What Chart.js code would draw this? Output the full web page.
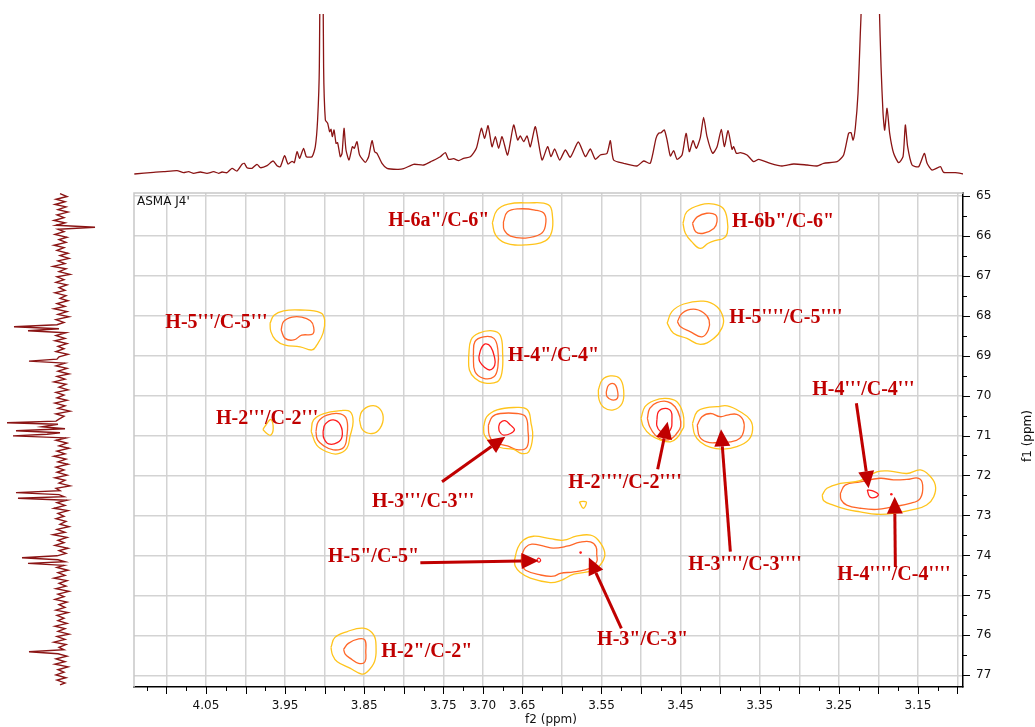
<!DOCTYPE html>
<html>
<head>
<meta charset="utf-8">
<title>ASMA J4' HSQC</title>
<script src="https://cdn.jsdelivr.net/npm/chart.js@4.4.1/dist/chart.umd.min.js"></script>
<style>
  html, body { margin: 0; padding: 0; background: #fff; }
  #wrap { position: relative; width: 1035px; height: 727px; overflow: hidden; }
  #wrap canvas { position: absolute; left: 0; top: 0; }
</style>
</head>
<body>
<div id="wrap">
  <canvas id="proton" width="1035" height="190"></canvas>
  <canvas id="carbon" width="130" height="727"></canvas>
  <canvas id="hsqc" width="1035" height="727"></canvas>
</div>
<script>
// ---- axis limits (ppm) ----
const f2Min = 3.093, f2Max = 4.141;      // 1H (horizontal)
const f1Min = 64.933, f1Max = 77.292;    // 13C (vertical)

// ---- tick labels ----
const f2TickLabels = ['4.05', '3.95', '3.85', '3.75', '3.70', '3.65', '3.55', '3.45', '3.35', '3.25', '3.15'];
const f1TickLabels = ['65', '66', '67', '68', '69', '70', '71', '72', '73', '74', '75', '76', '77'];

// ---- 1H projection: [ppm, intensity] ----
const protonTrace = [
  [4.1406,2],[4.1162,3.7],[4.1036,4.3],[4.0866,5.3],[4.0783,3.3],[4.0720,4.3],[4.0656,2.7],[4.0572,4],
  [4.0487,2.7],[4.0403,4.3],[4.0340,2.7],[4.0297,4],[4.0234,3.3],[4.0171,7.7],[4.0108,5],[4.0044,11.7],
  [4.0015,12.7],[3.9981,8.3],[3.9918,7.7],[3.9855,11.7],[3.9813,8.3],[3.9728,10.3],[3.9652,15],[3.9602,10.3],
  [3.9560,9.3],[3.9506,20.3],[3.9463,12],[3.9412,14.7],[3.9383,13.3],[3.9349,24.3],[3.9316,17.7],[3.9266,27.7],
  [3.9231,19.3],[3.9159,19.3],[3.9118,29.3],[3.9089,56],[3.9067,109],[3.9040,400],[3.9013,109],[3.8991,56],
  [3.8962,52.7],[3.8937,44.3],[3.8919,46.7],[3.8903,39.3],[3.8881,46],[3.8856,32.7],[3.8836,33.3],[3.8802,19.3],
  [3.8780,22.7],[3.8755,47.7],[3.8730,26],[3.8692,16],[3.8650,29.3],[3.8625,27.7],[3.8591,34.3],[3.8558,21],
  [3.8486,13.7],[3.8444,19.3],[3.8401,35.3],[3.8368,24.3],[3.8338,22.7],[3.8275,12.7],[3.8211,7.7],[3.8085,6.7],
  [3.8001,7.3],[3.7875,11.7],[3.7749,11],[3.7642,15],[3.7537,19.3],[3.7474,23.3],[3.7433,16.7],[3.7369,17.3],
  [3.7306,15.3],[3.7243,17.7],[3.7158,19.3],[3.7082,27.7],[3.7019,47.7],[3.6977,37.7],[3.6934,50.3],[3.6884,29.3],
  [3.6842,39.3],[3.6800,27.7],[3.6757,39.3],[3.6687,21],[3.6611,51],[3.6560,36],[3.6526,40],[3.6484,34.3],
  [3.6441,40],[3.6400,29.3],[3.6336,49.3],[3.6252,16],[3.6181,29.3],[3.6138,19.3],[3.6092,27],[3.6029,16],
  [3.5957,26],[3.5894,18.7],[3.5793,34],[3.5704,19.3],[3.5641,27],[3.5578,16.7],[3.5515,21],[3.5430,22.7],
  [3.5388,35.3],[3.5347,16],[3.5220,12.7],[3.5051,10],[3.4967,15],[3.4883,12.7],[3.4811,37.7],[3.4778,42.7],
  [3.4747,43.3],[3.4706,46],[3.4671,36],[3.4630,20],[3.4588,25.3],[3.4545,16.7],[3.4482,21],[3.4431,42.7],
  [3.4390,24.3],[3.4343,35.3],[3.4301,27.7],[3.4250,38.7],[3.4209,58.7],[3.4166,39.3],[3.4095,22.7],[3.4039,29.3],
  [3.3985,46.7],[3.3947,29.3],[3.3900,45.3],[3.3850,26.7],[3.3829,29.3],[3.3795,22.7],[3.3745,23.3],[3.3660,21],
  [3.3577,14.3],[3.3513,16.7],[3.3366,12.7],[3.3218,10],[3.3071,12],[3.2902,11],[3.2775,10],[3.2692,12.7],
  [3.2522,14.3],[3.2439,21],[3.2376,42.7],[3.2345,43.3],[3.2320,36],[3.2291,48.3],[3.2257,82.7],[3.2228,142.7],
  [3.2215,170],[3.2196,250],[3.2101,600],[3.2007,250],[3.1988,170],[3.1966,109.3],[3.1941,62.7],[3.1920,46],
  [3.1890,67.7],[3.1857,42.7],[3.1807,22.7],[3.1743,13.3],[3.1688,19.3],[3.1659,51],[3.1630,29.3],[3.1574,11],
  [3.1491,9.3],[3.1419,22.7],[3.1384,12.7],[3.1321,6],[3.1216,9.3],[3.1175,3.7],[3.1027,3.3],[3.0922,2]
];

// ---- 13C projection: [ppm, intensity] ----
const carbonTrace = [
  [64.95,2],[65.02,-5],[65.09,6],[65.15,-3],[65.22,7],[65.28,-4],[65.35,4],[65.41,-6],[65.48,5],[65.55,-2],
  [65.62,8],[65.68,-3],[65.74,6],[65.79,-33],[65.84,4],[65.90,-2],[65.97,7],[66.04,-5],[66.10,3],[66.17,-4],
  [66.24,8],[66.30,-2],[66.37,5],[66.44,-6],[66.50,2],[66.57,-7],[66.63,4],[66.70,-3],[66.77,9],[66.83,-4],
  [66.90,3],[66.97,-8],[67.03,5],[67.10,-2],[67.17,6],[67.23,-5],[67.30,3],[67.37,-3],[67.43,7],[67.50,-4],
  [67.57,2],[67.63,-6],[67.70,5],[67.77,-3],[67.83,8],[67.90,-5],[67.97,4],[68.03,-7],[68.10,6],[68.17,-2],
  [68.23,5],[68.28,48],[68.33,3],[68.38,34],[68.43,-4],[68.50,6],[68.57,-3],[68.63,7],[68.70,-5],[68.77,4],
  [68.83,-2],[68.90,6],[68.97,-6],[69.03,3],[69.09,5],[69.14,33],[69.19,-3],[69.26,6],[69.32,-5],[69.39,4],
  [69.46,-7],[69.52,5],[69.59,-3],[69.66,8],[69.72,-4],[69.79,3],[69.86,-6],[69.92,6],[69.99,-2],[70.06,5],
  [70.12,-5],[70.19,7],[70.26,-3],[70.32,4],[70.39,-8],[70.46,6],[70.52,-2],[70.59,3],[70.64,6],[70.68,55],
  [70.72,4],[70.78,20],[70.83,-3],[70.88,46],[70.93,2],[70.97,15],[71.01,49],[71.06,-4],[71.12,6],[71.19,-5],
  [71.26,3],[71.32,-7],[71.39,5],[71.46,-3],[71.52,8],[71.59,-4],[71.66,4],[71.72,-6],[71.79,6],[71.86,-2],
  [71.92,5],[71.99,-5],[72.06,7],[72.12,-3],[72.19,3],[72.26,-8],[72.32,6],[72.38,2],[72.43,46],[72.48,3],
  [72.53,-2],[72.57,44],[72.62,-5],[72.68,5],[72.75,-3],[72.82,8],[72.88,-6],[72.95,4],[73.02,-2],[73.08,6],
  [73.15,-4],[73.22,2],[73.28,-7],[73.35,5],[73.42,-3],[73.48,9],[73.55,-5],[73.62,4],[73.68,-2],[73.75,7],
  [73.82,-6],[73.88,3],[73.95,-4],[74.01,5],[74.06,40],[74.11,4],[74.16,-3],[74.20,34],[74.25,-2],[74.30,5],
  [74.37,-6],[74.43,4],[74.50,-3],[74.57,8],[74.63,-5],[74.70,3],[74.77,-4],[74.83,6],[74.90,-7],[74.97,4],
  [75.03,-2],[75.10,7],[75.17,-5],[75.23,3],[75.30,-3],[75.37,6],[75.43,-6],[75.50,5],[75.57,-2],[75.63,4],
  [75.70,-5],[75.77,7],[75.83,-3],[75.90,4],[75.97,-7],[76.03,5],[76.10,-3],[76.17,8],[76.23,-4],[76.30,3],
  [76.36,-2],[76.41,33],[76.46,4],[76.52,-5],[76.59,6],[76.66,-3],[76.72,7],[76.79,-6],[76.86,4],[76.92,-2],
  [76.99,6],[77.06,-4],[77.12,5],[77.19,-3],[77.24,2]
];

// ---- HSQC contours, [f2 ppm, f1 ppm] ----
const lowContours = [
  [[3.688,65.68],[3.682,65.36],[3.668,65.21],[3.643,65.18],[3.617,65.23],[3.612,65.51],[3.613,65.91],[3.621,66.13],[3.646,66.23],[3.672,66.18],[3.684,65.98]],
  [[3.447,65.69],[3.442,65.40],[3.425,65.23],[3.408,65.21],[3.396,65.32],[3.391,65.61],[3.391,65.94],[3.396,66.07],[3.404,66.11],[3.415,66.19],[3.425,66.32],[3.436,66.15],[3.444,65.94]],
  [[3.969,68.19],[3.964,67.99],[3.952,67.88],[3.931,67.86],[3.905,67.93],[3.900,68.11],[3.902,68.44],[3.910,68.74],[3.916,68.86],[3.931,68.78],[3.950,68.74],[3.962,68.61],[3.968,68.40]],
  [[3.467,68.19],[3.461,67.90],[3.446,67.71],[3.421,67.64],[3.404,67.78],[3.396,68.07],[3.398,68.32],[3.408,68.57],[3.425,68.72],[3.442,68.57],[3.459,68.44]],
  [[3.718,69.03],[3.715,68.61],[3.705,68.44],[3.688,68.38],[3.678,68.49],[3.675,68.94],[3.676,69.44],[3.682,69.66],[3.699,69.68],[3.710,69.57],[3.717,69.36]],
  [[3.554,69.86],[3.549,69.61],[3.539,69.51],[3.527,69.57],[3.522,69.86],[3.524,70.20],[3.535,70.36],[3.547,70.30],[3.553,70.11]],
  [[3.699,70.78],[3.695,70.53],[3.682,70.36],[3.661,70.30],[3.644,70.35],[3.639,70.70],[3.637,71.03],[3.642,71.41],[3.651,71.45],[3.661,71.35],[3.678,71.30],[3.691,71.16],[3.698,70.99]],
  [[3.917,70.90],[3.914,70.61],[3.901,70.45],[3.880,70.38],[3.868,70.40],[3.864,70.65],[3.868,71.03],[3.872,71.32],[3.884,71.46],[3.897,71.41],[3.910,71.24]],
  [[3.978,70.85],[3.973,70.70],[3.968,70.60],[3.965,70.82],[3.968,70.99],[3.973,70.95]],
  [[3.856,70.61],[3.853,70.40],[3.842,70.26],[3.832,70.30],[3.826,70.53],[3.830,70.82],[3.840,70.95],[3.852,70.86]],
  [[3.500,70.57],[3.495,70.28],[3.484,70.13],[3.469,70.07],[3.455,70.15],[3.447,70.45],[3.446,70.78],[3.448,70.86],[3.455,71.07],[3.463,71.16],[3.476,71.11],[3.488,70.99],[3.497,70.78]],
  [[3.435,70.70],[3.429,70.40],[3.417,70.30],[3.404,70.28],[3.391,70.26],[3.375,70.40],[3.362,70.61],[3.359,70.86],[3.364,71.11],[3.379,71.28],[3.396,71.34],[3.412,71.30],[3.425,71.16],[3.432,70.99]],
  [[3.271,72.49],[3.265,72.32],[3.248,72.20],[3.223,72.13],[3.202,71.91],[3.185,71.89],[3.164,71.95],[3.147,71.86],[3.136,71.99],[3.128,72.24],[3.130,72.53],[3.139,72.74],[3.155,72.85],[3.181,72.95],[3.202,72.97],[3.223,72.91],[3.240,72.85],[3.257,72.74],[3.269,72.63]],
  [[3.578,72.66],[3.573,72.65],[3.569,72.67],[3.573,72.82]],
  [[3.660,74.12],[3.656,73.82],[3.649,73.62],[3.636,73.52],[3.615,73.58],[3.598,73.62],[3.582,73.52],[3.564,73.49],[3.554,73.62],[3.546,73.92],[3.549,74.17],[3.560,74.37],[3.585,74.47],[3.602,74.63],[3.615,74.68],[3.640,74.57],[3.653,74.42],[3.659,74.27]],
  [[3.892,76.30],[3.887,76.05],[3.872,75.91],[3.851,75.82],[3.838,75.99],[3.835,76.32],[3.837,76.66],[3.846,76.91],[3.853,76.97],[3.868,76.82],[3.884,76.66],[3.890,76.49]]
];
const midContours = [
  [[3.674,65.66],[3.669,65.41],[3.655,65.33],[3.634,65.36],[3.622,65.46],[3.621,65.76],[3.627,65.96],[3.646,66.06],[3.665,66.01],[3.673,65.86]],
  [[3.435,65.69],[3.429,65.53],[3.417,65.44],[3.406,65.48],[3.404,65.65],[3.408,65.82],[3.421,65.94],[3.431,65.90]],
  [[3.955,68.36],[3.952,68.15],[3.941,68.04],[3.929,68.04],[3.918,68.13],[3.914,68.28],[3.915,68.46],[3.929,68.49],[3.939,68.61],[3.950,68.57]],
  [[3.454,68.15],[3.448,67.94],[3.434,67.84],[3.421,67.93],[3.414,68.11],[3.415,68.36],[3.423,68.53],[3.438,68.40],[3.450,68.28]],
  [[3.712,68.99],[3.710,68.65],[3.699,68.53],[3.686,68.57],[3.681,68.86],[3.681,69.28],[3.686,69.53],[3.699,69.57],[3.710,69.40]],
  [[3.544,69.91],[3.541,69.74],[3.534,69.71],[3.530,69.86],[3.530,70.07],[3.537,70.11],[3.543,70.03]],
  [[3.693,70.74],[3.688,70.53],[3.678,70.45],[3.657,70.45],[3.646,70.53],[3.643,70.86],[3.644,71.28],[3.655,71.36],[3.669,71.26],[3.686,71.16],[3.692,70.99]],
  [[3.911,70.90],[3.908,70.65],[3.897,70.49],[3.880,70.46],[3.872,70.61],[3.872,71.03],[3.876,71.30],[3.889,71.36],[3.901,71.26],[3.909,71.11]],
  [[3.492,70.57],[3.489,70.32],[3.480,70.18],[3.467,70.15],[3.457,70.28],[3.451,70.53],[3.450,70.78],[3.455,70.95],[3.461,71.07],[3.472,71.11],[3.482,70.99],[3.489,70.78]],
  [[3.429,70.74],[3.423,70.53],[3.412,70.45],[3.400,70.53],[3.391,70.49],[3.379,70.47],[3.371,70.61],[3.370,70.86],[3.375,71.07],[3.387,71.16],[3.404,71.18],[3.417,71.16],[3.426,71.03]],
  [[3.248,72.45],[3.242,72.24],[3.223,72.16],[3.198,72.07],[3.181,72.11],[3.164,72.10],[3.149,72.07],[3.144,72.24],[3.147,72.57],[3.160,72.70],[3.181,72.78],[3.202,72.85],[3.223,72.82],[3.240,72.74],[3.247,72.61]],
  [[3.651,73.99],[3.646,73.80],[3.638,73.72],[3.623,73.77],[3.611,73.82],[3.594,73.77],[3.577,73.67],[3.564,73.66],[3.557,73.78],[3.556,73.99],[3.556,74.16],[3.564,74.32],[3.585,74.41],[3.602,74.45],[3.611,74.52],[3.627,74.49],[3.646,74.37],[3.651,74.22]],
  [[3.876,76.35],[3.870,76.20],[3.857,76.09],[3.849,76.12],[3.848,76.41],[3.849,76.66],[3.857,76.70],[3.868,76.57],[3.874,76.47]]
];
const highContours = [
  [[3.705,69.03],[3.702,68.82],[3.697,68.71],[3.690,68.78],[3.685,69.07],[3.685,69.24],[3.691,69.36],[3.698,69.29],[3.704,69.15]],
  [[3.680,70.78],[3.678,70.68],[3.672,70.63],[3.665,70.74],[3.660,70.85],[3.665,70.95],[3.674,70.99],[3.679,70.90]],
  [[3.902,70.90],[3.899,70.71],[3.889,70.61],[3.880,70.74],[3.878,71.03],[3.884,71.18],[3.895,71.21],[3.901,71.07]],
  [[3.480,70.61],[3.478,70.40],[3.469,70.32],[3.462,70.40],[3.461,70.61],[3.462,70.82],[3.468,70.95],[3.476,70.89],[3.480,70.76]],
  [[3.214,72.36],[3.208,72.38],[3.200,72.47],[3.204,72.55],[3.211,72.53]],
  [[3.632,74.12],[3.6295,74.07],[3.627,74.12],[3.6295,74.17]]
];
const highSpots = [[3.1836,72.47],[3.5764,73.93]];

// ---- assignments ----
const peakLabels = [
  'H-6a"/C-6"', 'H-6b"/C-6"', "H-5'''/C-5'''", "H-5''''/C-5''''", 'H-4"/C-4"',
  "H-2'''/C-2'''", "H-3'''/C-3'''", "H-2''''/C-2''''", "H-4'''/C-4'''", "H-3''''/C-3''''",
  "H-4''''/C-4''''", 'H-5"/C-5"', 'H-3"/C-3"', 'H-2"/C-2"'
];
const labelAnchors = [
  [3.8195,65.633],[3.3850,65.651],[4.1014,68.185],[3.3884,68.060],[3.6682,69.011],
  [4.0373,70.587],[3.8401,72.656],[3.5919,72.181],[3.2835,69.862],[3.4402,74.240],
  [3.2519,74.491],[3.8957,74.032],[3.5556,76.117],[3.8283,76.410]
];
// [tail f2, tail f1, tip f2, tip f1]
const arrowLinks = [
  [3.7516,72.155,3.6716,71.030],
  [3.7790,74.183,3.6295,74.133],
  [3.5249,75.823,3.5660,74.052],
  [3.4790,71.845,3.4664,70.654],
  [3.3871,73.907,3.3989,70.845],
  [3.2278,70.195,3.2123,72.321],
  [3.1785,74.290,3.1794,72.531]
];

// ---------------------------------------------------------------
const TRACE = '#8a1414';
const LABEL_RED = '#c00000';
const AXIS_FONT = '"DejaVu Sans", sans-serif';
const LEVEL_COLORS = ['#ffc41c', '#ff6628', '#ff1c1c'];

const f2TickValues = [];
for (let k = 124; k <= 165; k++) f2TickValues.push(Math.round(k * 25) / 1000);
const f1TickValues = [];
for (let k = 130; k <= 154; k++) f1TickValues.push(k / 2);
const isMajorF2 = v => Math.abs(v / 0.05 - Math.round(v / 0.05)) < 1e-6;
const isMajorF1 = v => Math.abs(v - Math.round(v)) < 1e-6;

const baseOpts = {
  responsive: false,
  animation: false,
  devicePixelRatio: 1,
  events: [],
  plugins: { legend: { display: false }, tooltip: { enabled: false } }
};

// 1H projection along the top
new Chart(document.getElementById('proton'), {
  type: 'scatter',
  data: { datasets: [{
    data: protonTrace.map(([x, y]) => ({ x, y })),
    showLine: true, borderColor: TRACE, borderWidth: 1.3, pointRadius: 0, tension: 0.2
  }] },
  options: Object.assign({}, baseOpts, {
    layout: { padding: { left: 134, right: 72, top: 14, bottom: 14 } },
    scales: {
      x: { type: 'linear', min: f2Min, max: f2Max, reverse: true, display: false },
      y: { type: 'linear', min: 0, max: 162, display: false }
    }
  })
});

// 13C projection along the left
new Chart(document.getElementById('carbon'), {
  type: 'scatter',
  data: { datasets: [{
    data: carbonTrace.map(([y, x]) => ({ x, y })),
    showLine: true, borderColor: TRACE, borderWidth: 1.4, pointRadius: 0, tension: 0
  }] },
  options: Object.assign({}, baseOpts, {
    layout: { padding: { left: 0, right: 30, top: 193, bottom: 40 } },
    scales: {
      x: { type: 'linear', min: -38, max: 62, reverse: true, display: false },
      y: { type: 'linear', min: f1Min, max: f1Max, reverse: true, display: false }
    }
  })
});

// contour datasets
function contourSet(poly, color) {
  const pts = poly.map(([x, y]) => ({ x, y }));
  pts.push({ x: poly[0][0], y: poly[0][1] });
  return { data: pts, showLine: true, borderColor: color, borderWidth: 1.3,
           pointRadius: 0, tension: 0.42, fill: false };
}
const hsqcSets = [];
lowContours.forEach(p => hsqcSets.push(contourSet(p, LEVEL_COLORS[0])));
midContours.forEach(p => hsqcSets.push(contourSet(p, LEVEL_COLORS[1])));
highContours.forEach(p => hsqcSets.push(contourSet(p, LEVEL_COLORS[2])));
hsqcSets.push({ data: highSpots.map(([x, y]) => ({ x, y })), showLine: false,
                pointRadius: 1.3, backgroundColor: LEVEL_COLORS[2], borderWidth: 0 });

function drawArrow(ctx, x0, y0, x1, y1) {
  const a = Math.atan2(y1 - y0, x1 - x0), L = 17, W = 8;
  const bx = x1 - L * Math.cos(a), by = y1 - L * Math.sin(a);
  ctx.beginPath(); ctx.moveTo(x0, y0); ctx.lineTo(bx, by); ctx.stroke();
  ctx.beginPath();
  ctx.moveTo(x1, y1);
  ctx.lineTo(bx + W * Math.sin(a), by - W * Math.cos(a));
  ctx.lineTo(bx - W * Math.sin(a), by + W * Math.cos(a));
  ctx.closePath(); ctx.fill();
}

const hsqcDecor = {
  id: 'hsqcDecor',
  beforeDatasetsDraw(chart) {
    const { ctx, chartArea: a } = chart;
    ctx.save();
    ctx.strokeStyle = '#c8c8c8'; ctx.lineWidth = 1.5;
    ctx.beginPath(); ctx.moveTo(a.left, a.bottom); ctx.lineTo(a.left, a.top); ctx.lineTo(a.right, a.top); ctx.stroke();
    ctx.restore();
  },
  afterDatasetsDraw(chart) {
    const { ctx, scales: { x, y } } = chart;
    ctx.save();
    ctx.strokeStyle = LABEL_RED; ctx.fillStyle = LABEL_RED; ctx.lineWidth = 3;
    arrowLinks.forEach(([tx, ty, hx, hy]) =>
      drawArrow(ctx, x.getPixelForValue(tx), y.getPixelForValue(ty), x.getPixelForValue(hx), y.getPixelForValue(hy)));
    ctx.font = 'bold 20px "Liberation Serif", serif';
    ctx.textAlign = 'left'; ctx.textBaseline = 'middle';
    peakLabels.forEach((t, i) =>
      ctx.fillText(t, x.getPixelForValue(labelAnchors[i][0]), y.getPixelForValue(labelAnchors[i][1])));
    ctx.restore();
  },
  afterDraw(chart) {
    const { ctx, chartArea: a, scales: { x, y } } = chart;
    ctx.save();
    ctx.strokeStyle = '#000'; ctx.lineWidth = 1;
    x.ticks.forEach(t => {
      const px = Math.round(x.getPixelForValue(t.value)) + 0.5;
      const len = isMajorF2(t.value) ? 7 : 4;
      ctx.beginPath(); ctx.moveTo(px, a.bottom); ctx.lineTo(px, a.bottom + len); ctx.stroke();
    });
    y.ticks.forEach(t => {
      const py = Math.round(y.getPixelForValue(t.value)) + 0.5;
      const len = isMajorF1(t.value) ? 7 : 4;
      ctx.beginPath(); ctx.moveTo(a.right, py); ctx.lineTo(a.right + len, py); ctx.stroke();
    });
    ctx.fillStyle = '#111';
    ctx.font = '12px ' + AXIS_FONT;
    ctx.textBaseline = 'top'; ctx.textAlign = 'left';
    ctx.fillText("ASMA J4'", a.left + 3, a.top + 3);
    ctx.textAlign = 'center'; ctx.textBaseline = 'middle';
    ctx.fillText('f2 (ppm)', 551, 720);
    ctx.translate(1028, 436); ctx.rotate(-Math.PI / 2);
    ctx.fillText('f1 (ppm)', 0, 0);
    ctx.restore();
  }
};

new Chart(document.getElementById('hsqc'), {
  type: 'scatter',
  data: { datasets: hsqcSets },
  options: Object.assign({}, baseOpts, {
    layout: { padding: { left: 134, top: 193, right: 0, bottom: 0 } },
    scales: {
      x: {
        type: 'linear', position: 'bottom', reverse: true, min: f2Min, max: f2Max,
        afterBuildTicks: s => { s.ticks = f2TickValues.map(v => ({ value: v })); },
        afterFit: s => { s.height = 40; },
        ticks: {
          autoSkip: false, maxRotation: 0, minRotation: 0, padding: 12, color: '#111',
          font: { family: AXIS_FONT, size: 12 },
          callback: v => { const s = Number(v).toFixed(2); return f2TickLabels.includes(s) ? s : ''; }
        },
        grid: {
          drawTicks: false, lineWidth: 1.5,
          color: c => (c.tick && isMajorF2(c.tick.value)) ? '#d3d3d3' : 'rgba(0,0,0,0)'
        },
        border: { display: true, color: '#000', width: 1.5 }
      },
      y: {
        type: 'linear', position: 'right', reverse: true, min: f1Min, max: f1Max,
        afterBuildTicks: s => { s.ticks = f1TickValues.map(v => ({ value: v })); },
        afterFit: s => { s.width = 72; },
        ticks: {
          autoSkip: false, padding: 13, color: '#111',
          font: { family: AXIS_FONT, size: 12 },
          callback: v => { const s = String(Math.round(v)); return (isMajorF1(v) && f1TickLabels.includes(s)) ? s : ''; }
        },
        grid: {
          drawTicks: false, lineWidth: 1.5,
          color: c => (c.tick && isMajorF1(c.tick.value)) ? '#d3d3d3' : 'rgba(0,0,0,0)'
        },
        border: { display: true, color: '#000', width: 1.5 }
      }
    }
  }),
  plugins: [hsqcDecor]
});
</script>
</body>
</html>
